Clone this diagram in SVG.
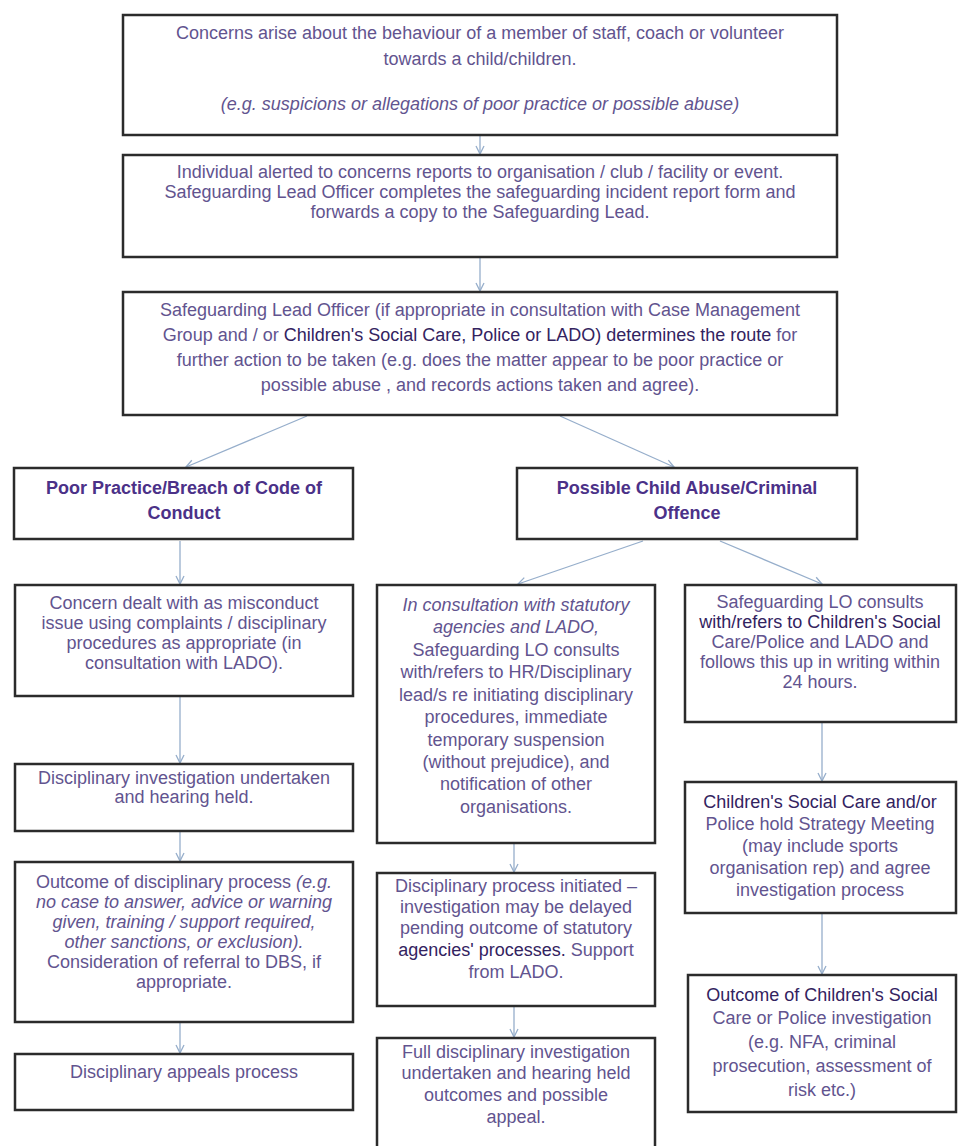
<svg xmlns="http://www.w3.org/2000/svg" width="959" height="1146" viewBox="0 0 959 1146">
<defs>
<style>
.box{fill:#fff;stroke:#2b2b2b;stroke-width:2.5}
.t{font-family:"Liberation Sans",Arial,sans-serif;font-size:18px;fill:#62548f;text-anchor:middle}
.d{fill:#33235f}
.i{font-style:italic}
.b{font-weight:bold;fill:#4b3188}
.conn{stroke:#96aecb;stroke-width:1.3;fill:none;marker-end:url(#arr)}
</style>
<marker id="arr" viewBox="0 0 10 10" refX="9" refY="5" markerWidth="10" markerHeight="10" markerUnits="userSpaceOnUse" orient="auto">
<path d="M1,1 L9,5 L1,9" fill="none" stroke="#96aecb" stroke-width="1.3"/>
</marker>
</defs>
<rect width="959" height="1146" fill="#fff"/>

<g id="connectors">
<line class="conn" x1="480" y1="135" x2="480" y2="154"/>
<line class="conn" x1="480" y1="258" x2="480" y2="291"/>
<line class="conn" x1="307" y1="416" x2="186" y2="467"/>
<line class="conn" x1="560" y1="416" x2="674" y2="467"/>
<line class="conn" x1="180" y1="541" x2="180" y2="584"/>
<line class="conn" x1="643" y1="541" x2="518" y2="584"/>
<line class="conn" x1="720" y1="541" x2="822" y2="584"/>
<line class="conn" x1="180" y1="697" x2="180" y2="763"/>
<line class="conn" x1="180" y1="832" x2="180" y2="861"/>
<line class="conn" x1="180" y1="1023" x2="180" y2="1053"/>
<line class="conn" x1="514" y1="844" x2="514" y2="872"/>
<line class="conn" x1="514" y1="1007" x2="514" y2="1037"/>
<line class="conn" x1="822" y1="723" x2="822" y2="781"/>
<line class="conn" x1="822" y1="914" x2="822" y2="974"/>
</g>

<g id="n1">
<rect class="box" x="123" y="15" width="714" height="120"/>
<text class="t" x="480" y="39">Concerns arise about the behaviour of a member of staff, coach or volunteer</text>
<text class="t" x="480" y="65">towards a child/children.</text>
<text class="t i" x="480" y="110">(e.g. suspicions or allegations of poor practice or possible abuse)</text>
</g>

<g id="n2">
<rect class="box" x="123" y="155" width="714" height="102"/>
<text class="t" x="480" y="178">Individual alerted to concerns reports to organisation / club / facility or event.</text>
<text class="t" x="480" y="198">Safeguarding Lead Officer completes the safeguarding incident report form and</text>
<text class="t" x="480" y="218">forwards a copy to the Safeguarding Lead.</text>
</g>

<g id="n3">
<rect class="box" x="123" y="292" width="714" height="123"/>
<text class="t" x="480" y="316">Safeguarding Lead Officer (if appropriate in consultation with Case Management</text>
<text class="t" x="480" y="341">Group and / or <tspan class="d">Children's Social Care, Police or LADO) determines the route</tspan> for</text>
<text class="t" x="480" y="366">further action to be taken (e.g. does the matter appear to be poor practice or</text>
<text class="t" x="480" y="391">possible abuse , and records actions taken and agree).</text>
</g>

<g id="n4">
<rect class="box" x="14" y="468" width="339" height="71"/>
<text class="t b" x="184" y="494">Poor Practice/Breach of Code of</text>
<text class="t b" x="184" y="519">Conduct</text>
</g>

<g id="n5">
<rect class="box" x="517" y="468" width="340" height="71"/>
<text class="t b" x="687" y="494">Possible Child Abuse/Criminal</text>
<text class="t b" x="687" y="519">Offence</text>
</g>

<g id="n6">
<rect class="box" x="15" y="585" width="338" height="111"/>
<text class="t" x="184" y="609">Concern dealt with as misconduct</text>
<text class="t" x="184" y="629">issue using complaints / disciplinary</text>
<text class="t" x="184" y="649">procedures as appropriate (in</text>
<text class="t" x="184" y="669">consultation with LADO).</text>
</g>

<g id="n7">
<rect class="box" x="15" y="764" width="338" height="67"/>
<text class="t" x="184" y="784">Disciplinary investigation undertaken</text>
<text class="t" x="184" y="803">and hearing held.</text>
</g>

<g id="n8">
<rect class="box" x="15" y="862" width="338" height="160"/>
<text class="t" x="184" y="888">Outcome of disciplinary process <tspan class="i">(e.g.</tspan></text>
<text class="t i" x="184" y="908">no case to answer, advice or warning</text>
<text class="t i" x="184" y="928">given, training / support required,</text>
<text class="t i" x="184" y="948">other sanctions, or exclusion).</text>
<text class="t" x="184" y="968">Consideration of referral to DBS, if</text>
<text class="t" x="184" y="988">appropriate.</text>
</g>

<g id="n9">
<rect class="box" x="15" y="1054" width="338" height="56"/>
<text class="t" x="184" y="1078">Disciplinary appeals process</text>
</g>

<g id="n10">
<rect class="box" x="377" y="585" width="278" height="258"/>
<text class="t i" x="516" y="611">In consultation with statutory</text>
<text class="t i" x="516" y="633">agencies and LADO,</text>
<text class="t" x="516" y="656">Safeguarding LO consults</text>
<text class="t" x="516" y="678">with/refers to HR/Disciplinary</text>
<text class="t" x="516" y="701">lead/s re initiating disciplinary</text>
<text class="t" x="516" y="723">procedures, immediate</text>
<text class="t" x="516" y="746">temporary suspension</text>
<text class="t" x="516" y="768">(without prejudice), and</text>
<text class="t" x="516" y="790">notification of other</text>
<text class="t" x="516" y="813">organisations.</text>
</g>

<g id="n11">
<rect class="box" x="377" y="873" width="278" height="133"/>
<text class="t" x="516" y="892">Disciplinary process initiated –</text>
<text class="t" x="516" y="913">investigation may be delayed</text>
<text class="t" x="516" y="934">pending outcome of statutory</text>
<text class="t" x="516" y="956"><tspan class="d">agencies' processes.</tspan> Support</text>
<text class="t" x="516" y="978">from LADO.</text>
</g>

<g id="n12">
<rect class="box" x="377" y="1038" width="278" height="110"/>
<text class="t" x="516" y="1058">Full disciplinary investigation</text>
<text class="t" x="516" y="1079">undertaken and hearing held</text>
<text class="t" x="516" y="1101">outcomes and possible</text>
<text class="t" x="516" y="1123">appeal.</text>
</g>

<g id="n13">
<rect class="box" x="685" y="585" width="271" height="137"/>
<text class="t" x="820" y="608">Safeguarding LO consults</text>
<text class="t d" x="820" y="628">with/refers to Children's Social</text>
<text class="t" x="820" y="648">Care/Police and LADO and</text>
<text class="t" x="820" y="668">follows this up in writing within</text>
<text class="t" x="820" y="688">24 hours.</text>
</g>

<g id="n14">
<rect class="box" x="685" y="782" width="271" height="131"/>
<text class="t d" x="820" y="808">Children's Social Care and/or</text>
<text class="t" x="820" y="830">Police hold Strategy Meeting</text>
<text class="t" x="820" y="852">(may include sports</text>
<text class="t" x="820" y="874">organisation rep) and agree</text>
<text class="t" x="820" y="896">investigation process</text>
</g>

<g id="n15">
<rect class="box" x="688" y="975" width="268" height="137"/>
<text class="t d" x="822" y="1001">Outcome of Children's Social</text>
<text class="t" x="822" y="1024">Care or Police investigation</text>
<text class="t" x="822" y="1048">(e.g. NFA, criminal</text>
<text class="t" x="822" y="1072">prosecution, assessment of</text>
<text class="t" x="822" y="1096">risk etc.)</text>
</g>
</svg>
